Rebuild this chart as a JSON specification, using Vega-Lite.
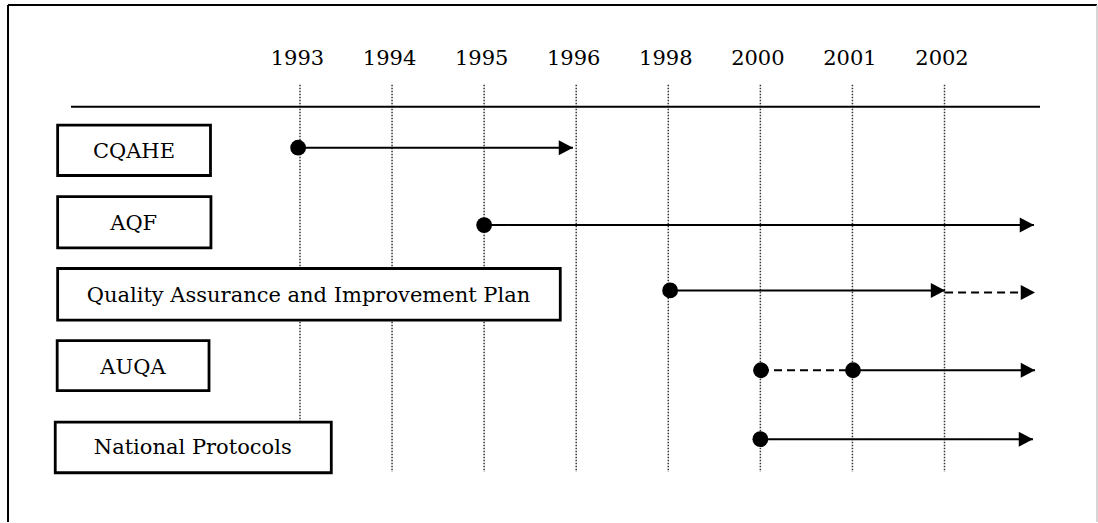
{
  "$schema": "https://vega.github.io/schema/vega-lite/v6.json",
  "width": 1098,
  "height": 523,
  "autosize": {"type": "fit", "contains": "padding"},
  "padding": 0,
  "background": "white",
  "config": {"view": {"stroke": null}},
  "datasets": {
    "years": [
      {"year": "1993", "idx": 0},
      {"year": "1994", "idx": 1},
      {"year": "1995", "idx": 2},
      {"year": "1996", "idx": 3},
      {"year": "1998", "idx": 4},
      {"year": "2000", "idx": 5},
      {"year": "2001", "idx": 6},
      {"year": "2002", "idx": 7}
    ],
    "items": [
      {"name": "CQAHE", "x0": -2.632, "x1": -0.972, "y0": 0.666, "y1": 1.349, "lx": -1.803, "ly": 1.029},
      {"name": "AQF", "x0": -2.632, "x1": -0.967, "y0": 1.635, "y1": 2.328, "lx": -1.806, "ly": 2.002},
      {"name": "Quality Assurance and Improvement Plan", "x0": -2.632, "x1": 2.827, "y0": 2.608, "y1": 3.308, "lx": 0.092, "ly": 2.982},
      {"name": "AUQA", "x0": -2.637, "x1": -0.988, "y0": 3.585, "y1": 4.261, "lx": -1.814, "ly": 3.953},
      {"name": "National Protocols", "x0": -2.658, "x1": 0.34, "y0": 4.689, "y1": 5.374, "lx": -1.165, "ly": 5.045}
    ],
    "segments": [
      {"item": "CQAHE", "from": -0.02, "to": 2.965, "lane": 0.973, "kind": "solid"},
      {"item": "AQF", "from": 2.0, "to": 7.972, "lane": 2.02, "kind": "solid"},
      {"item": "QAIP", "from": 4.02, "to": 7.006, "lane": 2.905, "kind": "solid"},
      {"item": "QAIP", "from": 7.006, "to": 7.983, "lane": 2.932, "kind": "dashed"},
      {"item": "AUQA", "from": 5.007, "to": 6.006, "lane": 3.986, "kind": "dashed"},
      {"item": "AUQA", "from": 6.006, "to": 7.983, "lane": 3.986, "kind": "solid"},
      {"item": "National Protocols", "from": 5.0, "to": 7.961, "lane": 4.919, "kind": "solid"}
    ],
    "dots": [
      {"item": "CQAHE", "at": -0.02, "lane": 0.973},
      {"item": "AQF", "at": 2.0, "lane": 2.02},
      {"item": "QAIP", "at": 4.02, "lane": 2.905},
      {"item": "AUQA", "at": 5.007, "lane": 3.986},
      {"item": "AUQA", "at": 6.006, "lane": 3.986},
      {"item": "National Protocols", "at": 5.0, "lane": 4.919}
    ],
    "arrows": [
      {"item": "CQAHE", "at": 2.965, "lane": 0.973},
      {"item": "AQF", "at": 7.972, "lane": 2.02},
      {"item": "QAIP", "at": 7.006, "lane": 2.905},
      {"item": "QAIP", "at": 7.983, "lane": 2.932},
      {"item": "AUQA", "at": 7.983, "lane": 3.986},
      {"item": "National Protocols", "at": 7.961, "lane": 4.919}
    ]
  },
  "layer": [
    {
      "data": {"values": [{"x": -3.171, "y": -0.959, "y2": 6.0405}]},
      "mark": {"type": "rule", "color": "black", "strokeWidth": 2},
      "encoding": {
        "x": {"field": "x", "type": "quantitative", "scale": {"domain": [-3.258, 8.667], "nice": false, "zero": false}, "axis": null},
        "y": {"field": "y", "type": "quantitative", "scale": {"domain": [-1.027, 6.0405], "reverse": true, "nice": false, "zero": false}, "axis": null},
        "y2": {"field": "y2"}
      }
    },
    {
      "data": {"values": [{"x": -3.171, "x2": 8.656, "y": -0.959}]},
      "mark": {"type": "rule", "color": "black", "strokeWidth": 2},
      "encoding": {
        "x": {"field": "x", "type": "quantitative"},
        "x2": {"field": "x2"},
        "y": {"field": "y", "type": "quantitative"}
      }
    },
    {
      "data": {"values": [{"x": 8.656, "y": -0.959, "y2": 6.0405}]},
      "mark": {"type": "rule", "color": "#c8c8c8", "strokeWidth": 1.5},
      "encoding": {
        "x": {"field": "x", "type": "quantitative"},
        "y": {"field": "y", "type": "quantitative"},
        "y2": {"field": "y2"}
      }
    },
    {
      "data": {"name": "years"},
      "mark": {"type": "rule", "color": "#333333", "strokeWidth": 1.5, "strokeDash": [1.5, 1.5], "y": {"expr": "scale('y', 0.122)"}, "y2": {"expr": "scale('y', 5.365)"}},
      "encoding": {
        "x": {"field": "idx", "type": "quantitative"}
      }
    },
    {
      "data": {"values": [{"x": -2.487, "x2": 8.037, "y": 0.419}]},
      "mark": {"type": "rule", "color": "black", "strokeWidth": 2},
      "encoding": {
        "x": {"field": "x", "type": "quantitative"},
        "x2": {"field": "x2"},
        "y": {"field": "y", "type": "quantitative"}
      }
    },
    {
      "data": {"name": "years"},
      "mark": {"type": "text", "font": "DejaVu Serif", "fontSize": 21, "color": "black", "align": "center", "baseline": "middle", "dx": -2.5, "y": {"expr": "scale('y', -0.228)"}},
      "encoding": {
        "x": {"field": "idx", "type": "quantitative"},
        "text": {"field": "year", "type": "nominal"}
      }
    },
    {
      "data": {"name": "items"},
      "mark": {"type": "rect", "fill": "white", "stroke": "black", "strokeWidth": 2.8},
      "encoding": {
        "x": {"field": "x0", "type": "quantitative"},
        "x2": {"field": "x1"},
        "y": {"field": "y0", "type": "quantitative"},
        "y2": {"field": "y1"}
      }
    },
    {
      "data": {"name": "items"},
      "mark": {"type": "text", "font": "DejaVu Serif", "fontSize": 21, "color": "black", "align": "center", "baseline": "middle"},
      "encoding": {
        "x": {"field": "lx", "type": "quantitative"},
        "y": {"field": "ly", "type": "quantitative"},
        "text": {"field": "name", "type": "nominal"}
      }
    },
    {
      "data": {"name": "segments"},
      "mark": {"type": "rule", "color": "black", "strokeWidth": 2},
      "encoding": {
        "x": {"field": "from", "type": "quantitative"},
        "x2": {"field": "to"},
        "y": {"field": "lane", "type": "quantitative"},
        "strokeDash": {"field": "kind", "type": "nominal", "scale": {"domain": ["solid", "dashed"], "range": [[1, 0], [8, 5]]}, "legend": null}
      }
    },
    {
      "data": {"name": "dots"},
      "mark": {"type": "point", "shape": "circle", "filled": true, "color": "black", "opacity": 1, "size": 250},
      "encoding": {
        "x": {"field": "at", "type": "quantitative"},
        "y": {"field": "lane", "type": "quantitative"}
      }
    },
    {
      "data": {"name": "arrows"},
      "mark": {"type": "point", "shape": "M-1.9,-1L0,0L-1.9,1Z", "filled": true, "color": "black", "opacity": 1, "size": 225, "strokeWidth": 0},
      "encoding": {
        "x": {"field": "at", "type": "quantitative"},
        "y": {"field": "lane", "type": "quantitative"}
      }
    }
  ]
}
